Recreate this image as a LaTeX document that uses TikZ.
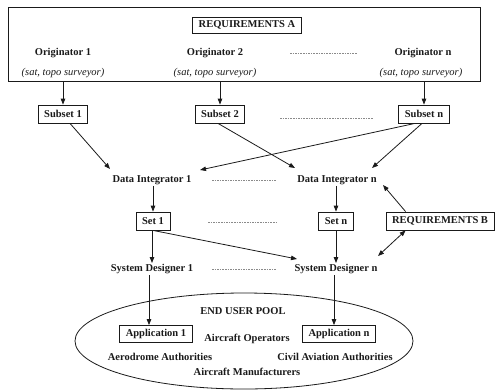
\documentclass[tikz,border=0pt]{standalone}
\usepackage{fontspec}
\setmainfont{Liberation Serif}
\usepackage{tikz}
\usetikzlibrary{calc,arrows.meta,shapes.geometric}
\definecolor{ink}{HTML}{1A1A1A}
\definecolor{dots}{HTML}{8A8A8A}
\tikzset{
  base/.style={draw=ink, line width=0.8pt},
  arr/.style={draw=ink, line width=0.8pt, -{Triangle[length=6pt,width=4.5pt]}},
  darr/.style={arr, {Triangle[length=6pt,width=4.5pt]}-{Triangle[length=6pt,width=4.5pt]}},
  gap/.style={draw=dots, line width=0.6pt, dash pattern=on 1.6pt off 1pt},
  lab/.style={text=ink, font=\bfseries\fontsize{10.5}{12}\selectfont, inner sep=1pt},
  note/.style={text=ink, font=\itshape\fontsize{10.5}{12}\selectfont, inner sep=1pt},
  box/.style={lab, base, inner xsep=6pt, minimum height=18pt}
}
\begin{document}
\begin{tikzpicture}[x=1pt,y=-1pt]
  \useasboundingbox (0,0) rectangle (497,391);

  % originators
  \node[base, minimum width=472pt, minimum height=74pt] (boxA) at (244,44) {};
  \node[box, minimum height=16pt] (reqA) at (247,25) {REQUIREMENTS A};
  \node[lab] (orig1) at (63,53) {Originator 1};
  \node[note] (orig1s) at (63,73) {(sat, topo surveyor)};
  \node[lab] (orig2) at (215,53) {Originator 2};
  \node[note] (orig2s) at (215,73) {(sat, topo surveyor)};
  \node[lab] (orign) at (423,53) {Originator n};
  \node[note] (origns) at (421,73) {(sat, topo surveyor)};
  \draw[gap] (290,53) -- (357,53);

  % subsets
  \node[box] (sub1) at (63,114) {Subset 1};
  \node[box] (sub2) at (220,114) {Subset 2};
  \node[box] (subn) at (424,114) {Subset n};
  \draw[gap] (280,118) -- (373,118);
  \foreach \s in {sub1,sub2,subn}
    \draw[arr] (\s.north |- boxA.south) -- (\s.north);

  % integrators
  \node[lab] (di1) at (152,180) {Data Integrator 1};
  \node[lab] (din) at (337,180) {Data Integrator n};
  \draw[gap] (212,180) -- (277,180);
  \draw[arr] ([xshift=7pt]sub1.south) -- ($(di1)+(-42,-11)$);
  \draw[arr] ([xshift=-9pt]subn.south) -- ($(di1)+(48,-10)$);
  \draw[arr] ([xshift=-2pt]sub2.south) -- ($(din)+(-42,-12)$);
  \draw[arr] ([xshift=-2pt]subn.south) -- ($(din)+(35,-12)$);

  % sets
  \node[box] (set1) at (153,221) {Set 1};
  \node[box] (setn) at (336,221) {Set n};
  \node[box] (reqB) at (440,221) {REQUIREMENTS B};
  \draw[gap] (208,222) -- (277,222);
  \draw[arr] (set1.north |- di1.south) -- (set1.north);
  \draw[arr] (setn.north |- din.south) -- (setn.north);
  \draw[arr] ([xshift=20pt]reqB.north west) -- ($(din)+(46,5)$);

  % designers
  \node[lab] (sd1) at (152,269) {System Designer 1};
  \node[lab] (sdn) at (336,269) {System Designer n};
  \draw[gap] (212,269) -- (277,269);
  \draw[arr] (set1.south -| sd1.north) -- (sd1.north);
  \draw[arr] (setn.south -| sdn.north) -- (sdn.north);
  \draw[arr] (set1.south) -- ($(sdn)+(-39,-10)$);
  \draw[darr] ([xshift=20pt]reqB.south west) -- ($(sdn)+(42,-13)$);

  % end users
  \node[base, ellipse, minimum width=338pt, minimum height=96pt] (pool) at (244,341) {};
  \node[lab] (eup) at (243,311) {END USER POOL};
  \node[box, minimum height=17pt] (app1) at (156,334) {Application 1};
  \node[box, minimum height=17pt] (appn) at (339,334) {Application n};
  \node[lab] (ops) at (247,339) {Aircraft Operators};
  \node[lab] (aero) at (160,357) {Aerodrome Authorities};
  \node[lab] (civil) at (335,357) {Civil Aviation Authorities};
  \node[lab] (manu) at (247,372) {Aircraft Manufacturers};
  \draw[arr] ([xshift=-3pt]sd1.south) -- ([xshift=-3pt]sd1.south |- app1.north);
  \draw[arr] ([xshift=-2pt]sdn.south) -- ([xshift=-2pt]sdn.south |- appn.north);
\end{tikzpicture}
\end{document}
